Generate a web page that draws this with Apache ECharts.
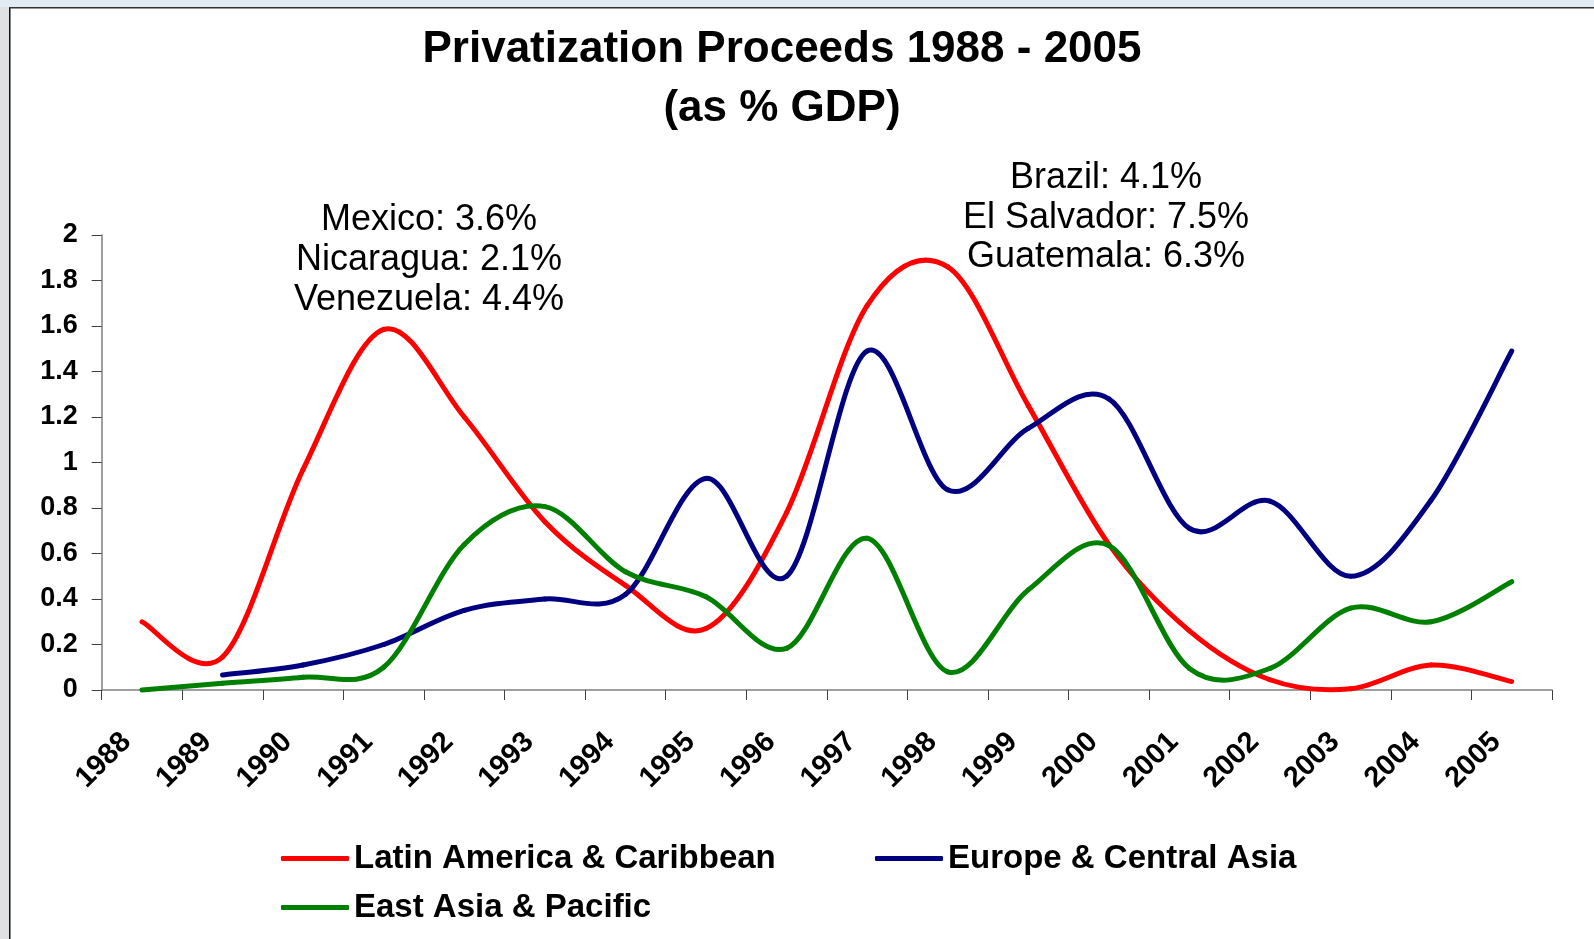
<!DOCTYPE html>
<html>
<head>
<meta charset="utf-8">
<script src="https://cdn.jsdelivr.net/npm/echarts@6/dist/echarts.min.js"></script>
<style>
html,body{margin:0;padding:0;background:#fff;}
#chart{width:1594px;height:939px;}
</style>
</head>
<body>
<div id="chart"></div>
<script>
const years = ['1988','1989','1990','1991','1992','1993','1994','1995','1996','1997','1998','1999','2000','2001','2002','2003','2004','2005'];
const yTicks = [0, 0.2, 0.4, 0.6, 0.8, 1, 1.2, 1.4, 1.6, 1.8, 2];
const latinAmerica = [0.30, 0.145, 0.97, 1.585, 1.20, 0.74, 0.46, 0.27, 0.78, 1.69, 1.86, 1.25, 0.64, 0.26, 0.045, 0.005, 0.11, 0.037];
const europeCentralAsia = [null, 0.066, 0.11, 0.20, 0.35, 0.40, 0.42, 0.93, 0.50, 1.49, 0.88, 1.15, 1.28, 0.71, 0.83, 0.50, 0.835, 1.49];
const eastAsiaPacific = [0.0, 0.03, 0.056, 0.10, 0.64, 0.806, 0.52, 0.41, 0.183, 0.667, 0.08, 0.44, 0.635, 0.095, 0.095, 0.36, 0.30, 0.476];
const seriesNames = ['Latin America & Caribbean', 'Europe & Central Asia', 'East Asia & Pacific'];
const titleLines = ['Privatization Proceeds 1988 - 2005', '(as % GDP)'];
const noteLeft = ['Mexico: 3.6%', 'Nicaragua: 2.1%', 'Venezuela: 4.4%'];
const noteRight = ['Brazil: 4.1%', 'El Salvador: 7.5%', 'Guatemala: 6.3%'];

const FONT = '"Liberation Sans", Arial, sans-serif';
const colors = ['#FF0000', '#000080', '#008000'];
const chart = echarts.init(document.getElementById('chart'));

// Smoothed line (Catmull-Rom style, like a spreadsheet's smoothed line),
// positioned through the chart's own axes via api.coord.
function mkLine(name, values, color) {
  const pts = [];
  values.forEach((v, i) => { if (v !== null) pts.push([i, v]); });
  return {
    type: 'custom', name: name, data: pts,
    encode: { x: 0, y: 1 },
    itemStyle: { color: color },
    z: 3,
    renderItem: function (params, api) {
      const k = params.dataIndex;
      if (k >= pts.length - 1) return null;
      const P = j => api.coord(pts[Math.max(0, Math.min(pts.length - 1, j))]);
      const p0 = P(k - 1), p1 = P(k), p2 = P(k + 1), p3 = P(k + 2);
      return {
        type: 'bezierCurve',
        shape: {
          x1: p1[0], y1: p1[1], x2: p2[0], y2: p2[1],
          cpx1: p1[0] + (p2[0] - p0[0]) / 6, cpy1: p1[1] + (p2[1] - p0[1]) / 6,
          cpx2: p2[0] - (p3[0] - p1[0]) / 6, cpy2: p2[1] - (p3[1] - p1[1]) / 6
        },
        style: { stroke: color, lineWidth: 5, fill: null, lineCap: 'round' }
      };
    }
  };
}

function legendAt(name, left, top) {
  return {
    data: [name], left: left, top: top, padding: 0,
    icon: 'roundRect', itemWidth: 68, itemHeight: 5,
    textStyle: { fontFamily: FONT, fontWeight: 'bold', fontSize: 33, color: '#000' }
  };
}

const graphics = [
  { type: 'rect', shape: { x: 0, y: 0, width: 9, height: 939 }, style: { fill: '#dfe1e3' }, silent: true },
  { type: 'rect', shape: { x: 0, y: 0, width: 1594, height: 7 }, style: { fill: '#e1ebf3' }, silent: true },
  { type: 'rect', shape: { x: 9, y: 7, width: 1.5, height: 932 }, style: { fill: '#111' }, silent: true },
  { type: 'rect', shape: { x: 9, y: 7, width: 1585, height: 1.5 }, style: { fill: '#333' }, silent: true }
];
titleLines.forEach((t, i) => {
  graphics.push({ type: 'text', x: 782, y: [50, 109][i],
    style: { text: t, fontFamily: FONT, fontWeight: 'bold', fontSize: 44, fill: '#000', textAlign: 'center', textVerticalAlign: 'middle' } });
});
noteLeft.forEach((t, i) => {
  graphics.push({ type: 'text', x: 429, y: [220, 260, 300][i],
    style: { text: t, fontFamily: FONT, fontSize: 36, fill: '#000', textAlign: 'center', textVerticalAlign: 'middle' } });
});
noteRight.forEach((t, i) => {
  graphics.push({ type: 'text', x: 1106, y: [178, 218, 257][i],
    style: { text: t, fontFamily: FONT, fontSize: 36, fill: '#000', textAlign: 'center', textVerticalAlign: 'middle' } });
});

chart.setOption({
  animation: false,
  backgroundColor: '#ffffff',
  grid: { left: 101.7, right: 42, top: 235, bottom: 249, containLabel: false },
  legend: [
    legendAt(seriesNames[0], 281, 842),
    legendAt(seriesNames[1], 875, 842),
    legendAt(seriesNames[2], 281, 891)
  ],
  xAxis: {
    type: 'category', data: years, boundaryGap: true,
    axisLine: { lineStyle: { color: '#808080', width: 1.5 } },
    axisTick: { show: true, length: 10, interval: 0, lineStyle: { color: '#404040', width: 1 } },
    axisLabel: { interval: 0, rotate: 45, margin: 32, padding: [0, 22, 0, 0],
      fontFamily: FONT, fontWeight: 'bold', fontSize: 29, color: '#000' },
    splitLine: { show: false }
  },
  yAxis: {
    type: 'value', min: yTicks[0], max: yTicks[yTicks.length - 1], interval: 0.2,
    axisLine: { show: true, lineStyle: { color: '#808080', width: 1.5 } },
    axisTick: { show: true, length: 10, lineStyle: { color: '#404040', width: 1 } },
    axisLabel: { margin: 24, fontFamily: FONT, fontWeight: 'bold', fontSize: 27, color: '#000' },
    splitLine: { show: false }
  },
  graphic: graphics,
  series: [
    mkLine(seriesNames[0], latinAmerica, colors[0]),
    mkLine(seriesNames[1], europeCentralAsia, colors[1]),
    mkLine(seriesNames[2], eastAsiaPacific, colors[2])
  ]
});
</script>
</body>
</html>
